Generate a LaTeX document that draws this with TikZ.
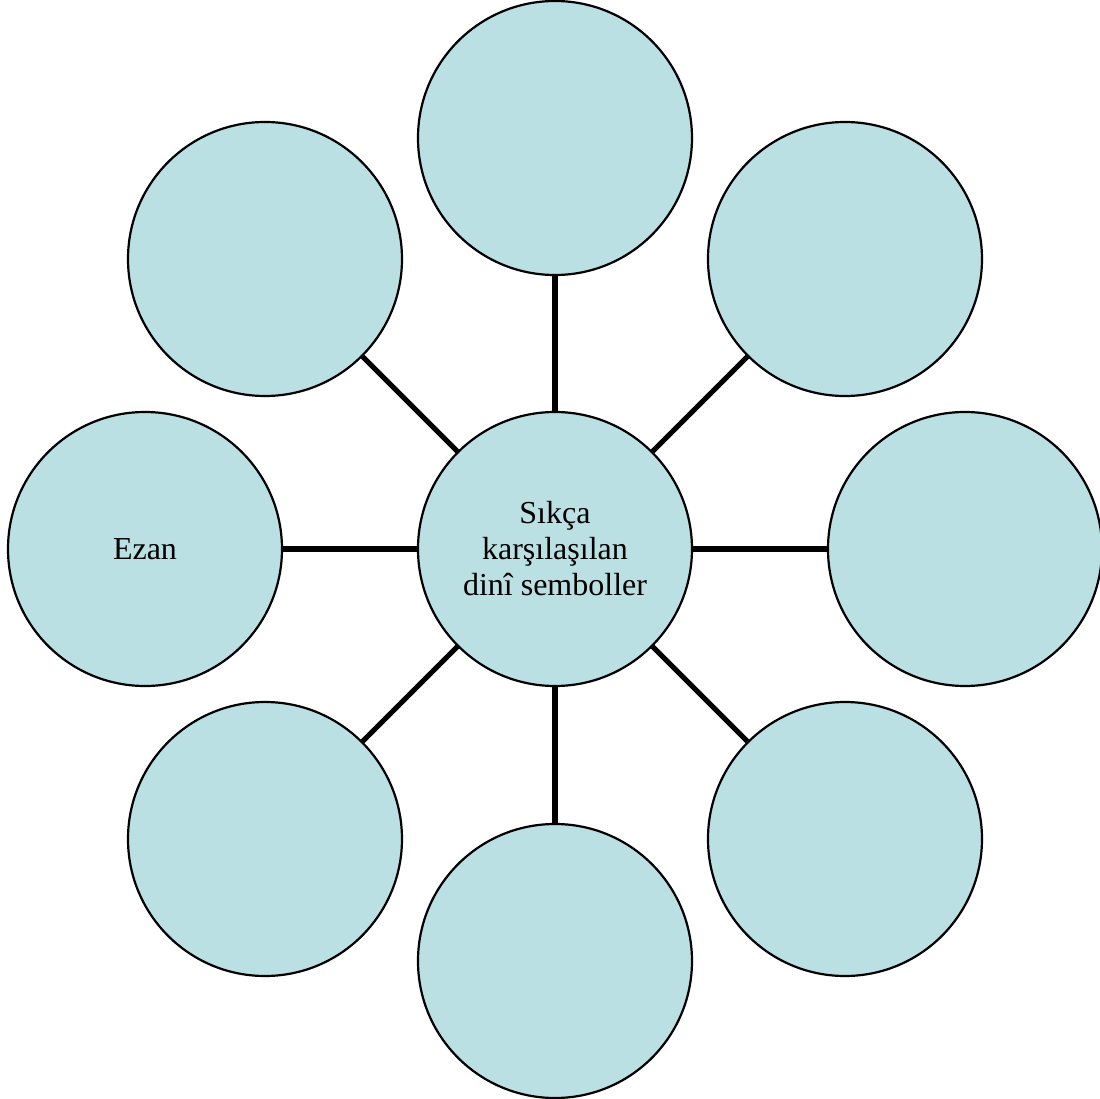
\documentclass[tikz,border=0pt]{standalone}
\usepackage{fontspec}
\setmainfont{Liberation Serif}
\usetikzlibrary{positioning}
\definecolor{symbolblue}{RGB}{187, 224, 227}

\begin{document}
\begin{tikzpicture}[
    x=0.5pt, y=0.5pt,
    every node/.style={font=\fontsize{16}{18}\selectfont},
    bubble/.style={circle, minimum size=137pt, inner sep=0pt, text centered, draw=black, line width=1.1pt, fill=symbolblue},
    spoke/.style={line width=2.6pt, black}
]
\useasboundingbox (-555,-550) rectangle (544,549);

\node[bubble, align=center] (hub) at (0,0) {Sıkça\\karşılaşılan\\dinî semboller};

\node[bubble] (top) at (0,411) {};
\node[bubble] (topright) at (290,290) {};
\node[bubble] (right) at (410,0) {};
\node[bubble] (bottomright) at (290,-290) {};
\node[bubble] (bottom) at (0,-412) {};
\node[bubble] (bottomleft) at (-290,-290) {};
\node[bubble] (left) at (-410,0) {Ezan};
\node[bubble] (topleft) at (-290,290) {};

\draw[spoke] (hub) -- (top);
\draw[spoke] (hub) -- (topright);
\draw[spoke] (hub) -- (right);
\draw[spoke] (hub) -- (bottomright);
\draw[spoke] (hub) -- (bottom);
\draw[spoke] (hub) -- (bottomleft);
\draw[spoke] (hub) -- (left);
\draw[spoke] (hub) -- (topleft);

\end{tikzpicture}
\end{document}
